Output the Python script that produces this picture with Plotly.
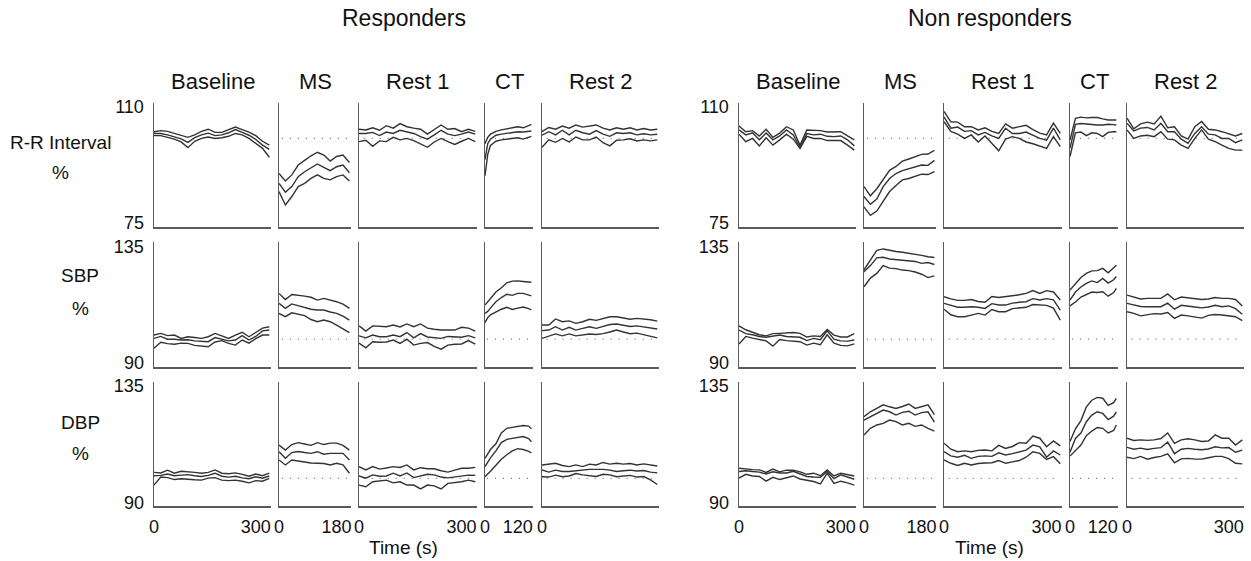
import plotly.graph_objects as go

W, H = 1251, 561

# ---------------- axes / categories ----------------
GROUPS = ["Responders", "Non responders"]
PHASES = ["Baseline", "MS", "Rest 1", "CT", "Rest 2"]
VARIABLES = ["R-R Interval", "SBP", "DBP"]
Y_RANGES = [[75, 110], [90, 135], [90, 135]]
X_MAX = [345, 225, 345, 176, 345]
X_TICKS = [[0, 300], [0, 180], [0, 300], [0, 120], [0, 300]]
X_TICKS_LEFT_LAST = [0]

# sample times (s)
T_BASELINE = [0, 20, 40, 60, 80, 100, 120, 140, 160, 180, 200, 220, 240, 260, 280, 300, 320, 340]
T_MS = [0, 20, 40, 60, 80, 100, 120, 140, 160, 180, 200, 220]
T_REST = [0, 20, 40, 60, 80, 100, 120, 140, 160, 180, 200, 220, 240, 260, 280, 300, 320, 340]
T_CT = [0, 10, 20, 40, 60, 80, 100, 120, 140, 160, 170]

# ---------------- Responders: R-R interval (%) ----------------
resp_rr_baseline_hi = [101.9, 102.2, 102.0, 101.4, 100.9, 100.3, 101.0, 102.0, 102.6, 101.7, 101.7, 102.5, 103.2, 102.5, 101.8, 100.8, 99.2, 98.1]
resp_rr_baseline_mid = [101.4, 101.4, 101.0, 100.5, 99.9, 98.9, 100.2, 101.0, 101.5, 100.8, 101.0, 101.6, 102.5, 101.7, 100.9, 99.7, 98.1, 96.9]
resp_rr_baseline_lo = [100.8, 100.8, 100.3, 99.8, 99.0, 97.4, 99.2, 100.0, 100.4, 100.0, 100.2, 100.6, 101.4, 101.0, 100.0, 98.6, 97.2, 94.7]
resp_rr_ms_hi = [90.1, 88.0, 89.7, 92.5, 93.8, 95.1, 96.1, 95.3, 93.6, 94.9, 95.3, 93.2]
resp_rr_ms_mid = [87.3, 84.8, 86.4, 89.2, 90.6, 91.6, 92.8, 91.8, 90.9, 92.0, 92.5, 90.3]
resp_rr_ms_lo = [85.0, 81.2, 83.6, 86.4, 87.3, 88.7, 89.7, 88.7, 88.3, 89.2, 89.7, 88.0]
resp_rr_rest1_hi = [102.6, 102.4, 103.0, 102.3, 103.6, 102.9, 104.2, 103.3, 102.9, 102.6, 101.2, 102.5, 103.8, 102.6, 102.8, 101.9, 102.6, 102.0]
resp_rr_rest1_mid = [101.4, 101.4, 101.7, 100.8, 101.8, 101.4, 102.3, 101.9, 101.4, 100.5, 99.8, 101.0, 102.3, 101.2, 100.8, 101.2, 101.8, 101.2]
resp_rr_rest1_lo = [99.1, 99.5, 97.8, 99.3, 99.1, 100.3, 99.6, 100.0, 99.4, 98.5, 97.5, 99.0, 100.0, 99.1, 98.3, 99.2, 100.0, 99.1]
resp_rr_ct_hi = [98.5, 100.3, 101.2, 102.0, 102.4, 102.8, 103.0, 103.3, 103.0, 103.6, 104.0]
resp_rr_ct_mid = [94.0, 98.5, 99.8, 100.9, 101.2, 101.4, 101.7, 101.9, 101.8, 102.0, 102.1]
resp_rr_ct_lo = [89.5, 95.5, 98.0, 99.2, 99.6, 99.8, 100.0, 100.2, 99.8, 100.3, 100.6]
resp_rr_rest2_hi = [101.9, 103.1, 102.6, 103.5, 102.9, 103.8, 103.2, 103.4, 103.8, 102.9, 102.4, 103.0, 102.6, 103.0, 102.4, 102.8, 102.4, 102.6]
resp_rr_rest2_mid = [100.9, 101.9, 101.0, 102.3, 101.0, 102.3, 101.6, 101.2, 102.2, 101.2, 100.6, 101.6, 101.4, 101.6, 101.0, 101.3, 101.0, 101.2]
resp_rr_rest2_lo = [97.5, 99.6, 98.9, 100.0, 99.0, 100.4, 99.6, 99.6, 100.4, 98.8, 97.9, 99.5, 99.6, 99.9, 99.3, 99.6, 99.3, 99.6]

# ---------------- Responders: SBP (%) ----------------
resp_sbp_baseline_hi = [101.5, 102.1, 101.3, 101.5, 100.3, 100.9, 100.6, 100.3, 100.9, 102.1, 101.2, 100.3, 101.5, 102.5, 100.9, 102.6, 104.0, 104.5]
resp_sbp_baseline_mid = [100.3, 101.0, 100.0, 100.0, 99.7, 99.8, 99.4, 99.3, 99.1, 100.6, 99.9, 99.4, 99.7, 101.3, 99.7, 101.0, 103.0, 103.3]
resp_sbp_baseline_lo = [96.8, 98.9, 98.4, 98.2, 98.6, 98.5, 97.8, 97.5, 97.3, 99.0, 99.5, 98.5, 97.9, 99.7, 98.6, 100.2, 101.5, 101.5]
resp_sbp_ms_hi = [116.5, 114.3, 116.1, 115.9, 115.5, 115.1, 114.1, 114.7, 114.1, 113.5, 112.6, 111.1]
resp_sbp_ms_mid = [112.9, 111.1, 112.7, 112.0, 111.5, 110.8, 110.5, 110.5, 109.8, 109.3, 108.3, 106.9]
resp_sbp_ms_lo = [109.3, 108.1, 109.5, 109.0, 108.5, 107.1, 106.3, 106.9, 106.3, 105.1, 103.9, 102.4]
resp_sbp_rest1_hi = [104.8, 102.9, 104.8, 104.6, 104.5, 105.1, 104.4, 105.5, 104.5, 105.5, 104.0, 103.6, 103.3, 103.3, 103.3, 104.3, 104.0, 102.9]
resp_sbp_rest1_mid = [101.2, 100.5, 101.5, 100.9, 100.9, 101.5, 100.9, 102.4, 100.5, 102.0, 100.8, 100.5, 100.3, 101.0, 100.9, 100.7, 101.3, 100.5]
resp_sbp_rest1_lo = [98.6, 96.9, 99.1, 98.9, 99.0, 99.7, 98.5, 100.0, 97.9, 98.5, 98.8, 97.4, 96.4, 97.9, 98.2, 98.3, 99.5, 98.2]
resp_sbp_ct_hi = [112.3, 113.5, 114.7, 117.0, 118.5, 120.3, 120.9, 121.0, 120.8, 120.7, 120.5]
resp_sbp_ct_mid = [109.3, 110.0, 111.2, 113.5, 115.0, 116.2, 115.8, 116.5, 116.5, 116.0, 115.6]
resp_sbp_ct_lo = [106.0, 107.8, 108.8, 109.9, 110.8, 111.5, 110.7, 111.2, 111.6, 111.0, 110.6]
resp_sbp_rest2_hi = [105.1, 105.1, 107.3, 106.3, 106.6, 105.7, 106.3, 107.2, 106.8, 107.5, 108.1, 108.1, 107.6, 107.2, 107.5, 107.3, 107.0, 106.5]
resp_sbp_rest2_mid = [103.1, 103.3, 104.5, 103.3, 104.3, 103.3, 103.9, 104.5, 103.9, 104.7, 105.3, 105.5, 105.0, 104.6, 104.8, 104.5, 104.0, 103.7]
resp_sbp_rest2_lo = [100.3, 101.2, 101.9, 101.2, 101.9, 101.2, 101.5, 101.9, 101.7, 102.0, 102.6, 103.3, 102.6, 102.0, 102.2, 101.6, 101.0, 100.5]

# ---------------- Responders: DBP (%) ----------------
resp_dbp_baseline_hi = [102.2, 102.0, 103.0, 101.9, 102.6, 102.5, 102.2, 101.9, 102.2, 103.1, 101.9, 101.7, 102.0, 101.5, 100.8, 101.6, 101.0, 101.9]
resp_dbp_baseline_mid = [101.0, 101.1, 101.6, 101.0, 101.2, 101.4, 101.0, 100.7, 101.1, 101.9, 100.8, 100.5, 100.8, 100.2, 99.9, 100.6, 100.1, 100.9]
resp_dbp_baseline_lo = [97.6, 100.5, 100.3, 99.6, 99.9, 99.6, 99.5, 99.4, 100.1, 100.3, 99.4, 99.2, 99.4, 99.0, 98.4, 99.2, 99.0, 100.0]
resp_dbp_ms_hi = [112.1, 110.3, 112.3, 113.0, 112.5, 112.0, 113.0, 112.3, 112.8, 112.8, 112.0, 110.3]
resp_dbp_ms_mid = [109.7, 107.3, 109.4, 109.8, 109.4, 109.1, 109.7, 108.8, 109.1, 109.2, 109.1, 106.7]
resp_dbp_ms_lo = [106.7, 104.9, 106.7, 106.3, 106.0, 105.6, 105.5, 105.4, 104.9, 105.5, 104.9, 101.9]
resp_dbp_rest1_hi = [104.3, 103.1, 104.3, 103.4, 103.8, 104.3, 104.0, 104.9, 103.1, 103.9, 103.5, 103.5, 102.8, 102.3, 103.0, 103.7, 103.7, 104.0]
resp_dbp_rest1_mid = [100.9, 100.1, 101.3, 100.8, 100.9, 101.9, 100.9, 102.0, 100.3, 100.8, 101.5, 101.3, 100.5, 100.2, 100.6, 100.9, 101.2, 101.1]
resp_dbp_rest1_lo = [97.6, 97.0, 98.8, 99.0, 99.4, 98.4, 98.8, 97.6, 97.6, 96.2, 97.6, 97.3, 96.2, 98.2, 98.5, 98.8, 99.4, 98.8]
resp_dbp_ct_hi = [107.3, 108.8, 110.5, 112.6, 116.5, 118.2, 118.5, 118.8, 119.2, 119.0, 118.0]
resp_dbp_ct_mid = [104.3, 106.0, 107.5, 110.0, 113.0, 114.2, 114.5, 114.8, 115.2, 114.5, 113.3]
resp_dbp_ct_lo = [100.6, 101.5, 102.6, 104.8, 107.0, 108.6, 110.0, 110.8, 110.5, 109.8, 109.3]
resp_dbp_rest2_hi = [104.9, 105.3, 105.5, 104.7, 104.3, 104.9, 104.3, 105.2, 104.9, 105.8, 105.2, 105.5, 105.2, 105.4, 104.9, 105.3, 104.8, 104.5]
resp_dbp_rest2_mid = [103.1, 102.3, 103.0, 102.5, 102.5, 102.8, 103.1, 103.3, 103.3, 103.3, 103.0, 102.5, 102.8, 103.0, 102.7, 102.9, 102.3, 102.0]
resp_dbp_rest2_lo = [100.6, 100.5, 101.2, 100.6, 100.9, 101.8, 101.3, 100.9, 100.7, 101.5, 101.3, 100.6, 100.9, 101.1, 100.5, 100.7, 99.5, 97.8]

# ---------------- Non responders: R-R interval (%) ----------------
non_rr_baseline_hi = [103.5, 101.9, 102.2, 100.7, 102.6, 100.3, 101.5, 103.3, 102.4, 98.1, 102.4, 102.3, 102.2, 101.8, 101.9, 101.9, 100.7, 99.6]
non_rr_baseline_mid = [102.4, 101.0, 101.6, 99.6, 101.5, 99.6, 100.7, 102.4, 101.0, 97.5, 101.4, 101.0, 101.2, 100.6, 100.5, 100.7, 99.6, 97.9]
non_rr_baseline_lo = [101.2, 99.1, 100.0, 97.9, 100.2, 98.1, 99.6, 101.2, 99.8, 97.2, 100.6, 100.0, 100.0, 99.4, 99.4, 99.4, 98.1, 96.7]
non_rr_ms_hi = [86.4, 83.8, 85.8, 88.4, 91.0, 92.1, 93.6, 94.2, 94.8, 95.5, 95.6, 96.6]
non_rr_ms_mid = [83.6, 81.4, 82.9, 86.4, 88.7, 90.1, 90.9, 91.4, 92.0, 92.5, 92.4, 93.8]
non_rr_ms_lo = [80.7, 78.3, 79.5, 82.4, 85.0, 86.7, 88.3, 88.7, 89.2, 89.9, 89.8, 90.6]
non_rr_rest1_hi = [107.6, 104.7, 104.6, 103.3, 103.3, 102.4, 103.0, 102.0, 101.4, 104.1, 102.9, 103.3, 103.7, 102.5, 101.5, 101.0, 104.3, 101.4]
non_rr_rest1_mid = [106.1, 102.9, 103.2, 102.0, 102.2, 101.0, 101.7, 100.7, 100.0, 102.9, 101.4, 101.4, 101.8, 100.8, 100.0, 99.5, 102.9, 99.6]
non_rr_rest1_lo = [104.7, 102.0, 101.2, 100.0, 101.0, 99.0, 100.7, 98.6, 96.5, 99.8, 100.5, 100.0, 99.0, 98.5, 97.8, 97.2, 100.5, 97.7]
non_rr_ct_hi = [99.5, 103.0, 105.7, 106.0, 105.8, 105.9, 105.9, 105.5, 105.2, 105.2, 105.2]
non_rr_ct_mid = [97.2, 100.5, 104.0, 104.2, 104.0, 103.8, 103.8, 103.8, 104.0, 103.9, 103.8]
non_rr_ct_lo = [94.9, 98.0, 101.6, 101.8, 100.8, 101.6, 101.4, 100.5, 101.7, 101.9, 101.9]
non_rr_rest2_hi = [105.7, 102.7, 104.1, 104.6, 104.1, 106.3, 103.0, 103.3, 100.7, 99.8, 103.3, 104.8, 102.6, 102.4, 101.9, 101.4, 100.7, 101.4]
non_rr_rest2_mid = [104.3, 102.1, 102.9, 103.1, 102.4, 104.3, 101.9, 101.9, 99.8, 98.6, 101.4, 103.3, 101.2, 101.0, 100.0, 100.0, 98.8, 99.6]
non_rr_rest2_lo = [102.4, 100.0, 100.7, 100.9, 100.5, 101.9, 99.8, 99.6, 98.1, 97.2, 100.0, 102.4, 99.8, 99.1, 98.1, 97.2, 96.7, 96.7]

# ---------------- Non responders: SBP (%) ----------------
non_sbp_baseline_hi = [104.8, 103.4, 102.5, 101.6, 101.2, 102.0, 102.1, 102.3, 102.4, 102.1, 100.8, 101.2, 101.0, 103.5, 101.5, 100.8, 100.8, 102.0]
non_sbp_baseline_mid = [103.3, 102.0, 101.6, 101.0, 100.7, 101.0, 101.5, 101.0, 100.9, 100.7, 99.5, 100.3, 99.8, 103.0, 100.0, 99.4, 99.3, 99.7]
non_sbp_baseline_lo = [98.3, 101.0, 100.4, 99.8, 99.4, 97.5, 99.9, 99.5, 99.3, 99.1, 97.9, 98.6, 98.0, 101.6, 98.6, 97.8, 97.6, 98.3]
non_sbp_ms_hi = [125.0, 128.5, 132.0, 132.5, 132.0, 131.6, 131.3, 131.0, 130.6, 130.2, 129.7, 129.4]
non_sbp_ms_mid = [124.3, 126.5, 129.3, 129.5, 128.9, 128.7, 128.6, 128.3, 128.0, 127.3, 127.6, 126.9]
non_sbp_ms_lo = [118.9, 122.0, 123.7, 126.5, 125.6, 125.4, 124.9, 124.7, 124.2, 123.4, 122.2, 122.8]
non_sbp_rest1_hi = [115.3, 114.5, 114.0, 114.0, 114.3, 113.6, 113.3, 115.4, 115.0, 115.3, 115.7, 116.0, 116.5, 117.5, 116.5, 117.5, 117.0, 114.1]
non_sbp_rest1_mid = [112.9, 112.3, 111.5, 111.5, 111.7, 111.5, 111.1, 112.8, 112.3, 112.3, 113.0, 113.3, 113.5, 114.6, 114.1, 114.6, 114.2, 110.5]
non_sbp_rest1_lo = [110.8, 108.8, 108.1, 108.1, 108.7, 109.3, 108.7, 110.7, 109.9, 109.9, 111.0, 111.3, 111.5, 112.5, 112.3, 112.2, 111.2, 106.9]
non_sbp_ct_hi = [117.7, 118.8, 120.0, 122.2, 123.7, 124.6, 124.7, 125.5, 123.9, 125.8, 126.6]
non_sbp_ct_mid = [114.1, 115.5, 117.0, 118.8, 120.1, 121.0, 120.4, 121.9, 120.2, 121.4, 122.6]
non_sbp_ct_lo = [112.0, 112.7, 113.4, 115.2, 116.0, 117.0, 116.8, 117.1, 115.5, 116.8, 118.3]
non_sbp_rest2_hi = [115.9, 115.3, 114.5, 114.7, 114.7, 114.7, 116.3, 114.2, 115.2, 114.9, 114.7, 114.3, 114.5, 115.0, 114.7, 114.7, 114.3, 112.0]
non_sbp_rest2_mid = [112.9, 112.3, 111.8, 111.7, 111.7, 111.7, 113.0, 110.8, 112.2, 112.0, 111.6, 111.3, 111.6, 112.2, 111.7, 112.0, 111.0, 109.0]
non_sbp_rest2_lo = [109.9, 109.3, 108.4, 108.8, 109.2, 109.1, 109.6, 107.5, 108.7, 108.4, 108.1, 107.6, 108.6, 108.9, 108.7, 108.4, 108.1, 106.7]

# ---------------- Non responders: DBP (%) ----------------
non_dbp_baseline_hi = [103.7, 103.4, 103.2, 103.1, 102.2, 103.4, 102.4, 103.0, 103.0, 102.4, 101.5, 101.9, 101.0, 103.1, 100.9, 101.9, 101.3, 100.9]
non_dbp_baseline_mid = [102.5, 102.8, 102.5, 102.3, 101.6, 102.4, 102.0, 102.0, 102.6, 101.6, 100.7, 100.5, 100.4, 102.5, 99.9, 101.3, 100.6, 99.7]
non_dbp_baseline_lo = [100.1, 101.5, 100.9, 100.7, 99.0, 100.4, 99.6, 100.3, 100.9, 99.8, 99.4, 98.9, 98.0, 101.9, 98.2, 99.0, 98.4, 97.6]
non_dbp_ms_hi = [122.4, 124.2, 125.4, 126.7, 126.0, 125.4, 126.1, 127.0, 125.4, 126.0, 126.7, 123.2]
non_dbp_ms_mid = [121.2, 122.4, 123.6, 124.8, 124.2, 123.0, 124.0, 124.4, 123.0, 123.9, 124.2, 120.4]
non_dbp_ms_lo = [115.8, 118.2, 119.4, 120.0, 121.2, 120.6, 119.4, 120.0, 118.9, 119.4, 118.2, 117.2]
non_dbp_rest1_hi = [112.8, 110.6, 109.7, 110.0, 109.7, 110.2, 110.3, 110.0, 112.0, 110.9, 111.6, 113.0, 112.8, 115.4, 114.6, 111.5, 113.6, 111.8]
non_dbp_rest1_mid = [109.7, 108.2, 107.7, 108.4, 107.3, 108.0, 108.2, 108.0, 109.3, 108.5, 109.0, 109.7, 110.3, 112.1, 111.5, 107.7, 110.0, 108.5]
non_dbp_rest1_lo = [106.7, 105.5, 104.7, 105.5, 104.9, 105.4, 105.6, 105.7, 106.5, 105.5, 106.0, 106.5, 107.7, 109.7, 109.1, 106.9, 107.9, 105.3]
non_dbp_ct_hi = [113.4, 116.0, 118.0, 121.0, 126.0, 128.4, 129.4, 129.1, 126.5, 127.5, 129.1]
non_dbp_ct_mid = [109.5, 112.0, 114.5, 116.5, 120.6, 123.0, 124.2, 123.6, 121.4, 122.6, 124.2]
non_dbp_ct_lo = [108.1, 109.2, 110.3, 112.1, 115.5, 117.2, 118.5, 118.2, 116.5, 117.4, 119.4]
non_dbp_rest2_hi = [114.6, 113.8, 114.0, 113.8, 114.0, 114.5, 116.5, 112.7, 114.0, 114.4, 114.0, 113.4, 113.6, 115.8, 114.6, 114.6, 112.1, 114.0]
non_dbp_rest2_mid = [111.3, 110.6, 111.0, 110.5, 110.9, 111.2, 113.2, 109.0, 110.6, 110.9, 110.6, 110.4, 110.7, 111.5, 111.1, 111.2, 109.5, 110.3]
non_dbp_rest2_lo = [107.7, 107.2, 108.0, 107.0, 107.6, 108.0, 108.9, 105.7, 107.1, 107.3, 107.0, 107.0, 107.5, 108.0, 108.0, 107.2, 105.5, 105.3]

# ---------------- assemble table from the named lists ----------------
TIMES = [T_BASELINE, T_MS, T_REST, T_CT, T_REST]
G = globals()
prefixes = ["resp", "non"]
var_keys = ["rr", "sbp", "dbp"]
phase_keys = ["baseline", "ms", "rest1", "ct", "rest2"]

# ---------------- layout geometry (pixels) ----------------
PANEL_X_LEFT = [(154, 271), (279, 351), (359, 477), (485, 533), (542, 659)]
GROUP_SHIFT = [0, 585]
ROW_Y = [(103, 227), (242, 367), (382, 506)]
# nudge of the top label (pixels, + = down) and bottom label (pixels, + = up)
Y_LABEL_SHIFT = [(4, 4), (5, 4), (4, 3)]

FONT = "Liberation Sans, Arial, Helvetica, sans-serif"
LINE_COLOR = "#333333"
AXIS_COLOR = "#5a5a5a"
TEXT_COLOR = "#111111"

fig = go.Figure()
layout = dict(
    width=W, height=H, autosize=False, margin=dict(l=0, r=0, t=0, b=0, pad=0),
    paper_bgcolor="white", plot_bgcolor="rgba(0,0,0,0)", showlegend=False,
    font=dict(family=FONT, color=TEXT_COLOR),
    template="none",
)
shapes = []
annotations = []

n = 0
for g in range(2):
    for r in range(3):
        for p in range(5):
            n += 1
            xa = "x" if n == 1 else f"x{n}"
            ya = "y" if n == 1 else f"y{n}"
            x0p, x1p = PANEL_X_LEFT[p]
            x0p += GROUP_SHIFT[g]
            x1p += GROUP_SHIFT[g]
            y0p, y1p = ROW_Y[r]
            xdom = [x0p / W, x1p / W]
            ydom = [1 - y1p / H, 1 - y0p / H]
            bottom = (r == 2)
            if bottom:
                tv = X_TICKS_LEFT_LAST if (g == 0 and p == 4) else X_TICKS[p]
            else:
                tv = []
            layout["xaxis" if n == 1 else f"xaxis{n}"] = dict(
                domain=xdom, anchor=ya, range=[0, X_MAX[p]],
                showline=True, linecolor=AXIS_COLOR, linewidth=1.5,
                showgrid=False, zeroline=False, automargin=False,
                tickmode="array", tickvals=tv, ticktext=[str(v) for v in tv],
                ticks="", showticklabels=bottom,
                tickfont=dict(family=FONT, size=18, color=TEXT_COLOR),
                ticklabelstandoff=4, fixedrange=True,
            )
            lo_v, hi_v = Y_RANGES[r]
            yt = [hi_v] if p == 0 else []
            layout["yaxis" if n == 1 else f"yaxis{n}"] = dict(
                domain=ydom, anchor=xa, range=Y_RANGES[r],
                showline=True, linecolor=AXIS_COLOR, linewidth=1.5,
                showgrid=False, zeroline=False, automargin=False,
                tickmode="array", tickvals=yt, ticktext=[str(v) for v in yt],
                ticks="", showticklabels=(p == 0),
                ticklabelshift=Y_LABEL_SHIFT[r][0],
                tickfont=dict(family=FONT, size=18, color=TEXT_COLOR),
                ticklabelstandoff=5, fixedrange=True,
            )
            if p == 0:
                # lower value label of the y scale, placed on the axis scale
                annotations.append(dict(
                    text=str(lo_v), xref=f"{xa} domain", yref=ya,
                    x=0, y=lo_v, xanchor="right", yanchor="middle",
                    xshift=-8, yshift=Y_LABEL_SHIFT[r][1], showarrow=False,
                    font=dict(family=FONT, size=18, color=TEXT_COLOR),
                ))
            base = f"{prefixes[g]}_{var_keys[r]}_{phase_keys[p]}"
            for suffix in ["hi", "mid", "lo"]:
                fig.add_trace(go.Scatter(
                    x=TIMES[p], y=G[f"{base}_{suffix}"], mode="lines",
                    line=dict(color=LINE_COLOR, width=1.4),
                    xaxis=xa, yaxis=ya, hoverinfo="skip", showlegend=False,
                ))
            if p > 0:
                shapes.append(dict(
                    type="line", xref=f"{xa} domain", yref=ya,
                    x0=0.04, x1=0.97, y0=100, y1=100, layer="below",
                    line=dict(color="#777777", width=1.2, dash="1px,7px"),
                ))
            if r == 0:
                annotations.append(dict(
                    text=PHASES[p], x=(x0p + x1p) / 2 / W, y=1 - 81 / H,
                    xref="paper", yref="paper", showarrow=False,
                    xanchor="center", yanchor="middle",
                    font=dict(family=FONT, size=22, color=TEXT_COLOR),
                ))

# group titles and time labels
for g, cx in enumerate([404, 990]):
    annotations.append(dict(
        text=GROUPS[g], x=cx / W, y=1 - 18 / H, xref="paper", yref="paper",
        showarrow=False, xanchor="center", yanchor="middle",
        font=dict(family=FONT, size=23, color=TEXT_COLOR),
    ))
    annotations.append(dict(
        text="Time (s)", x=(cx - 1) / W, y=1 - 547 / H, xref="paper", yref="paper",
        showarrow=False, xanchor="center", yanchor="middle",
        font=dict(family=FONT, size=19, color=TEXT_COLOR),
    ))

# row labels (left group only)
ROW_LABEL_POS = [(60, 142, 173), (80, 275, 308), (80, 422, 453)]
for r, (cx, ylab, ypct) in enumerate(ROW_LABEL_POS):
    annotations.append(dict(
        text=VARIABLES[r], x=cx / W, y=1 - ylab / H, xref="paper", yref="paper",
        showarrow=False, xanchor="center", yanchor="middle",
        font=dict(family=FONT, size=19, color=TEXT_COLOR),
    ))
    annotations.append(dict(
        text="%", x=cx / W, y=1 - ypct / H, xref="paper", yref="paper",
        showarrow=False, xanchor="center", yanchor="middle",
        font=dict(family=FONT, size=19, color=TEXT_COLOR),
    ))

layout["shapes"] = shapes
layout["annotations"] = annotations
fig.update_layout(**layout)
fig.write_html(
    "out.html",
    config={"displayModeBar": False, "staticPlot": True},
    post_script="document.body.style.margin='0px';document.body.style.overflow='hidden';",
)
